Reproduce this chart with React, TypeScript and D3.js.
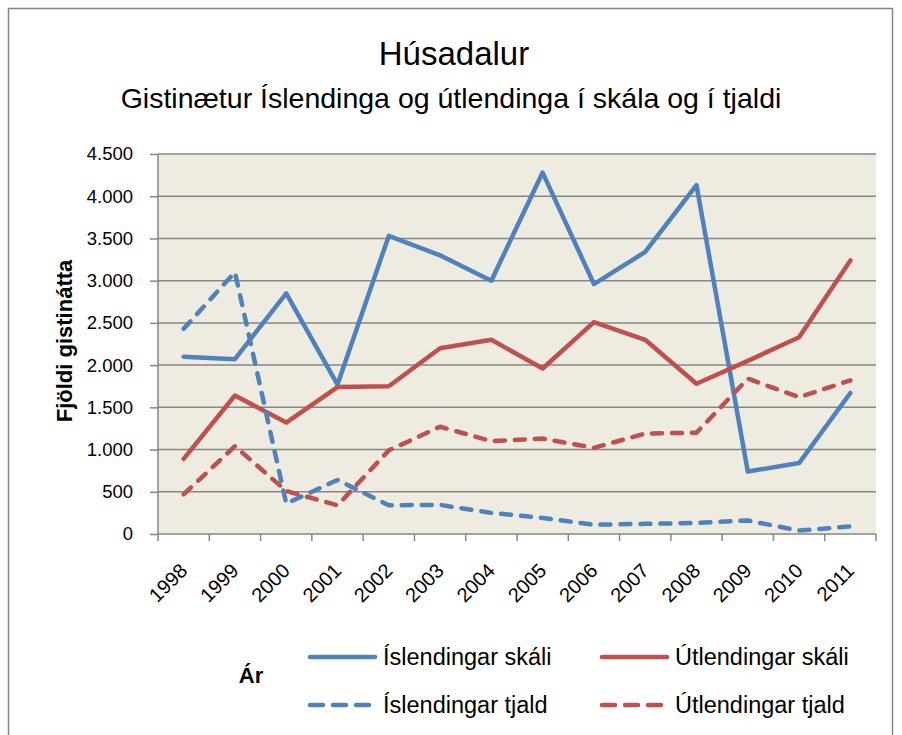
import React, { useEffect, useRef } from 'react';
import * as d3 from 'd3';

const years = ['1998', '1999', '2000', '2001', '2002', '2003', '2004', '2005', '2006', '2007', '2008', '2009', '2010', '2011'];
const islSkali = [2100, 2070, 2850, 1770, 3530, 3300, 3000, 4280, 2960, 3340, 4130, 740, 840, 1670];
const utlSkali = [890, 1640, 1320, 1740, 1750, 2200, 2300, 1960, 2510, 2300, 1780, 2050, 2330, 3240];
const islTjald = [2430, 3100, 360, 640, 340, 345, 250, 190, 110, 120, 130, 160, 40, 90];
const utlTjald = [470, 1040, 510, 340, 990, 1270, 1100, 1130, 1020, 1190, 1200, 1840, 1620, 1820];
const yTicks = [0, 500, 1000, 1500, 2000, 2500, 3000, 3500, 4000, 4500];

const series = [
  { name: 'Íslendingar skáli', values: islSkali, color: '#4F81BD', dashed: false },
  { name: 'Útlendingar skáli', values: utlSkali, color: '#C0504D', dashed: false },
  { name: 'Íslendingar tjald', values: islTjald, color: '#4F81BD', dashed: true },
  { name: 'Útlendingar tjald', values: utlTjald, color: '#C0504D', dashed: true },
];

const FONT = "'Liberation Sans', Arial, sans-serif";

export default function App() {
  const svgRef = useRef<SVGSVGElement>(null);

  useEffect(() => {
    document.body.style.margin = '0';
    const svg = d3.select(svgRef.current).html('');
    const W = 902, H = 735;
    svg.attr('width', W).attr('height', H);

    svg.append('rect').attr('width', W).attr('height', H).attr('fill', '#fff');
    svg.append('rect')
      .attr('x', 8.5).attr('y', 8.5).attr('width', 884).attr('height', 740)
      .attr('fill', 'none').attr('stroke', '#868686').attr('stroke-width', 1.5);

    const left = 158, right = 876, top = 154, bottom = 534;

    const x = d3.scaleBand().domain(years).range([left, right]);
    const y = d3.scaleLinear().domain([0, 4500]).range([bottom, top]);

    svg.append('text')
      .attr('x', 454).attr('y', 65).attr('text-anchor', 'middle')
      .style('font-family', FONT).style('font-size', '33px').attr('fill', '#000')
      .text('Húsadalur');
    svg.append('text')
      .attr('x', 451).attr('y', 108).attr('text-anchor', 'middle')
      .style('font-family', FONT).style('font-size', '28.5px').attr('fill', '#000')
      .text('Gistinætur Íslendinga og útlendinga í skála og í tjaldi');

    svg.append('rect')
      .attr('x', left).attr('y', top).attr('width', right - left).attr('height', bottom - top)
      .attr('fill', '#EEECE1');

    // y ticks and labels
    const yAxis = svg.append('g')
      .attr('transform', `translate(${left},0)`)
      .call(d3.axisLeft(y).tickValues(yTicks).tickSize(8).tickPadding(17)
        .tickFormat(d => d3.format(',')(d as number).replace(/,/g, '.')));
    yAxis.select('.domain').remove();
    yAxis.selectAll('.tick line').attr('stroke', '#868686').attr('stroke-width', 1.5);
    yAxis.selectAll('text').style('font-family', FONT).style('font-size', '18.5px').attr('fill', '#000');

    // gridlines
    svg.append('g').selectAll('line').data(yTicks).enter().append('line')
      .attr('x1', left).attr('x2', right)
      .attr('y1', d => y(d)).attr('y2', d => y(d))
      .attr('stroke', '#868686').attr('stroke-width', 1.5);

    svg.append('line')
      .attr('x1', left).attr('x2', left).attr('y1', top).attr('y2', bottom)
      .attr('stroke', '#868686').attr('stroke-width', 1.5);

    // x axis ticks at category boundaries
    const bounds = years.map(yr => x(yr)!).concat([right]);
    svg.append('g').selectAll('line').data(bounds).enter().append('line')
      .attr('x1', d => d).attr('x2', d => d)
      .attr('y1', bottom).attr('y2', bottom + 7)
      .attr('stroke', '#868686').attr('stroke-width', 1.5);

    svg.append('g').selectAll('text').data(years).enter().append('text')
      .attr('transform', d => `translate(${x(d)! + x.bandwidth() / 2 + 5},${bottom + 38}) rotate(-45)`)
      .attr('text-anchor', 'end')
      .style('font-family', FONT).style('font-size', '20px').attr('fill', '#000')
      .text(d => d);

    // y axis title
    svg.append('text')
      .attr('transform', `translate(72,341) rotate(-90)`)
      .attr('text-anchor', 'middle')
      .style('font-family', FONT).style('font-size', '22px').style('font-weight', 'bold')
      .text('Fjöldi gistinátta');

    const line = d3.line<number>()
      .x((_, i) => x(years[i])! + x.bandwidth() / 2)
      .y(d => y(d));

    series.forEach(s => {
      svg.append('path')
        .datum(s.values)
        .attr('d', line)
        .attr('fill', 'none')
        .attr('stroke', s.color)
        .attr('stroke-width', 4.5)
        .attr('stroke-linejoin', 'round')
        .attr('stroke-linecap', 'round')
        .attr('stroke-dasharray', s.dashed ? '10,10' : null);
    });

    // x axis title
    svg.append('text')
      .attr('x', 251).attr('y', 675).attr('dy', '0.35em').attr('text-anchor', 'middle')
      .style('font-family', FONT).style('font-size', '22px').style('font-weight', 'bold')
      .text('Ár');

    // legend
    const legendPos = [
      { lx: 308, ly: 657 }, { lx: 600, ly: 657 },
      { lx: 308, ly: 705 }, { lx: 600, ly: 705 },
    ];
    series.forEach((s, i) => {
      const p = legendPos[i];
      svg.append('line')
        .attr('x1', p.lx + 2).attr('x2', p.lx + 67)
        .attr('y1', p.ly).attr('y2', p.ly)
        .attr('stroke', s.color).attr('stroke-width', 4.5)
        .attr('stroke-linecap', 'round')
        .attr('stroke-dasharray', s.dashed ? '13,10' : null);
      svg.append('text')
        .attr('x', p.lx + 75).attr('y', p.ly).attr('dy', '0.35em')
        .style('font-family', FONT).style('font-size', '23.5px').attr('fill', '#000')
        .text(s.name);
    });
  }, []);

  return <svg ref={svgRef} style={{ display: 'block' }} />;
}
